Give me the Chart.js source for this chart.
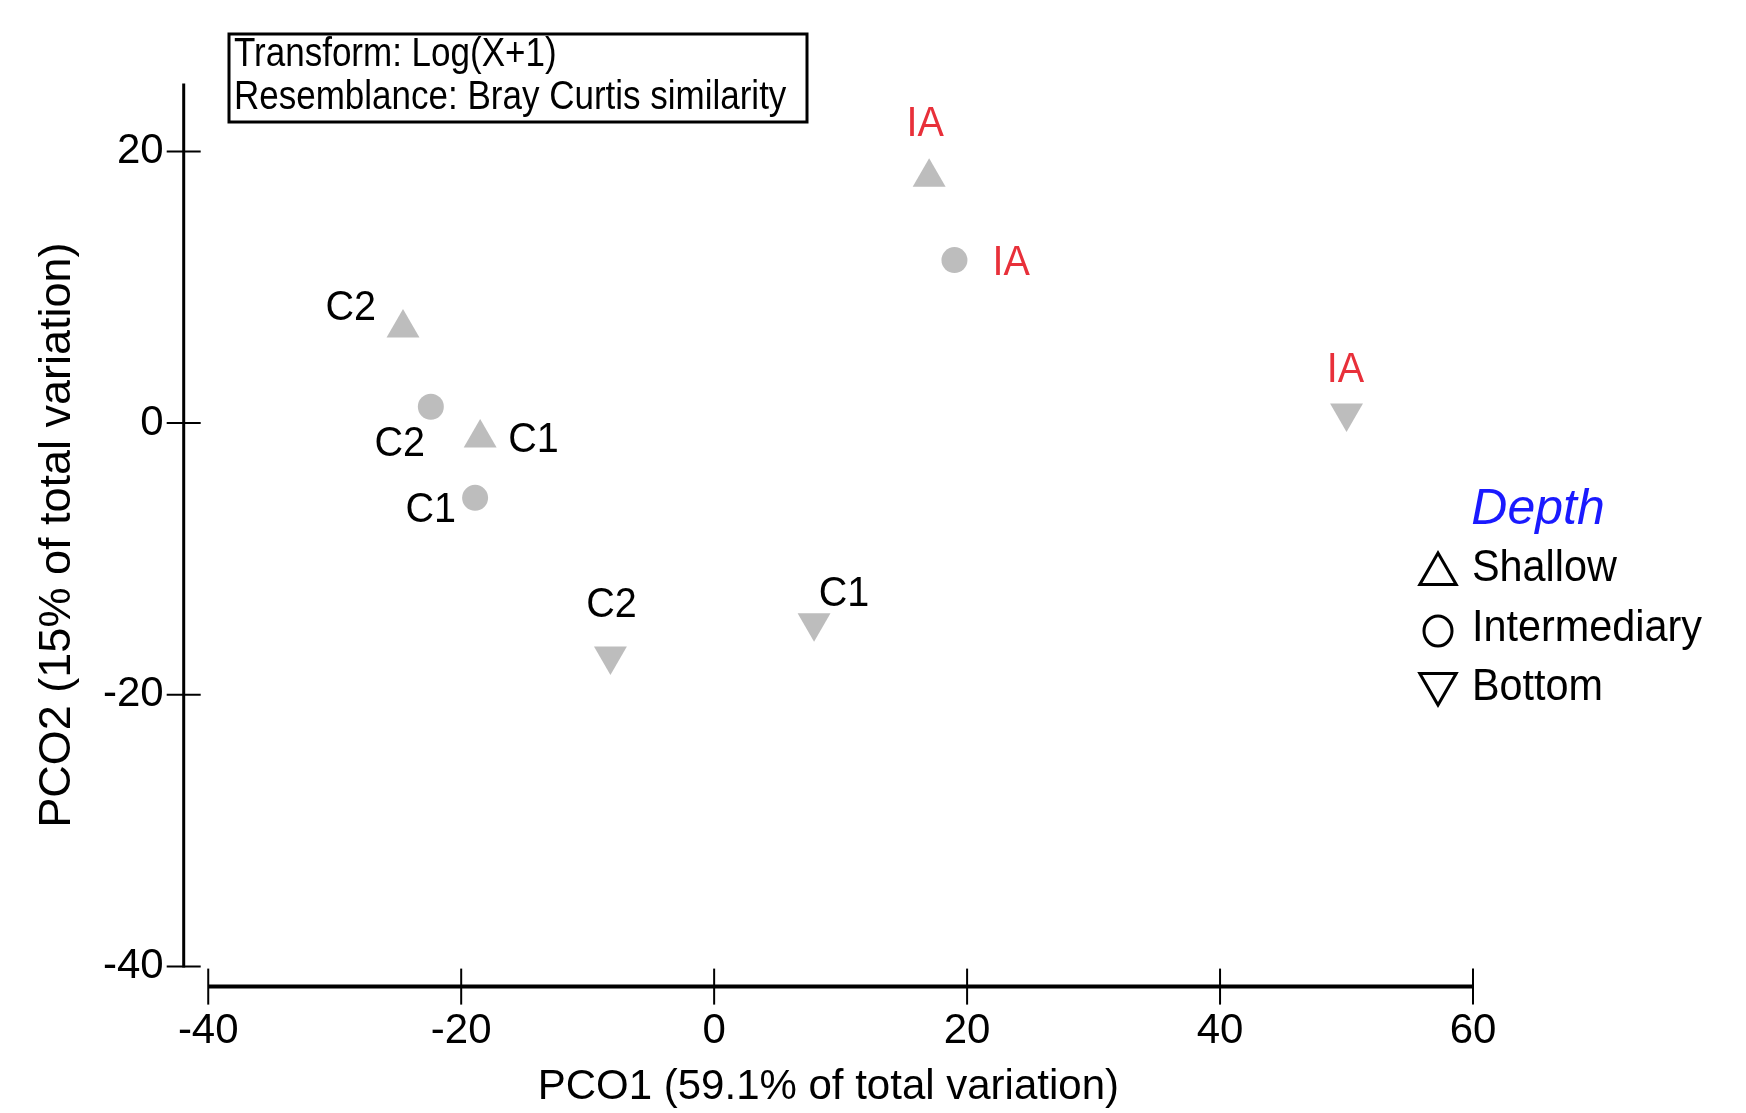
<!DOCTYPE html>
<html>
<head>
<meta charset="utf-8">
<script src="https://cdn.jsdelivr.net/npm/chart.js@4.4.1/dist/chart.umd.min.js"></script>
<style>
  html, body { margin: 0; padding: 0; background: #fff; }
  #wrap { width: 1746px; height: 1113px; }
</style>
</head>
<body>
<div id="wrap"><canvas id="pco"></canvas></div>
<script>
// PCO scores per depth (sites in order IA, C2, C1)
const sites = ['IA', 'C2', 'C1'];
const shallowX = [17.0, -24.6, -18.5];
const shallowY = [18.1, 7.0, -1.1];
const intermediaryX = [19.0, -22.4, -18.9];
const intermediaryY = [12.0, 1.2, -5.5];
const bottomX = [50.0, -8.2, 7.9];
const bottomY = [0.75, -17.15, -14.7];

const xTicks = [-40, -20, 0, 20, 40, 60];
const yTicks = [-40, -20, 0, 20];
const depthNames = ['Shallow', 'Intermediary', 'Bottom'];
const noteLines = ['Transform: Log(X+1)', 'Resemblance: Bray Curtis similarity'];

const FONT = "'Liberation Sans', Arial, sans-serif";
const GREY = '#bdbdbd';
const RED = '#e8303a';

// where each site label sits relative to its marker: [dx, dy, align]
const labelPos = [
  [[-4, -53, 'center'], [-27, -20, 'right'], [28, 2, 'left']],
  [[38, 3, 'left'], [-31, 37, 'center'], [-19, 12, 'right']],
  [[-1, -43, 'center'], [1, -51, 'center'], [30, -29, 'center']]
];

function pts(xs, ys) {
  return xs.map((x, i) => ({ x: x, y: ys[i] }));
}

// the original figure uses a slightly condensed face, so squeeze text a bit
function squeezedText(ctx, text, x, y, align, sx) {
  ctx.save();
  ctx.translate(x, y);
  ctx.scale(sx, 1);
  ctx.textAlign = align;
  ctx.fillText(text, 0, 0);
  ctx.restore();
}

Chart.defaults.font.family = FONT;
Chart.defaults.color = '#000';

// detached PRIMER-style axes: lines only span the tick range
const axesLines = {
  id: 'axesLines',
  beforeDatasetsDraw(chart) {
    const { ctx, chartArea, scales: { x, y } } = chart;
    ctx.save();
    ctx.strokeStyle = '#000';
    const ax = chartArea.left;
    ctx.lineWidth = 3;
    ctx.beginPath();
    ctx.moveTo(ax, chartArea.top);
    ctx.lineTo(ax, y.getPixelForValue(yTicks[0]) + 1);
    ctx.stroke();
    ctx.lineWidth = 2;
    yTicks.forEach(v => {
      const py = y.getPixelForValue(v);
      ctx.beginPath();
      ctx.moveTo(ax - 17, py);
      ctx.lineTo(ax + 17, py);
      ctx.stroke();
    });
    const ay = chartArea.bottom;
    ctx.lineWidth = 4;
    ctx.beginPath();
    ctx.moveTo(x.getPixelForValue(xTicks[0]), ay);
    ctx.lineTo(x.getPixelForValue(xTicks[xTicks.length - 1]), ay);
    ctx.stroke();
    ctx.lineWidth = 2;
    xTicks.forEach(v => {
      const px = x.getPixelForValue(v);
      ctx.beginPath();
      ctx.moveTo(px, ay - 18);
      ctx.lineTo(px, ay + 18);
      ctx.stroke();
    });
    ctx.restore();
  }
};

const siteLabels = {
  id: 'siteLabels',
  afterDatasetsDraw(chart) {
    const ctx = chart.ctx;
    ctx.save();
    ctx.font = '43px ' + FONT;
    ctx.textBaseline = 'middle';
    chart.data.datasets.forEach((ds, di) => {
      chart.getDatasetMeta(di).data.forEach((el, i) => {
        const p = labelPos[di][i];
        ctx.fillStyle = sites[i] === 'IA' ? RED : '#000';
        squeezedText(ctx, sites[i], el.x + p[0], el.y + p[1], p[2], 0.92);
      });
    });
    ctx.restore();
  }
};

const noteBox = {
  id: 'noteBox',
  afterDraw(chart) {
    const ctx = chart.ctx;
    ctx.save();
    ctx.strokeStyle = '#000';
    ctx.lineWidth = 3;
    ctx.strokeRect(229, 34, 578, 88);
    ctx.fillStyle = '#000';
    ctx.font = '40px ' + FONT;
    ctx.textBaseline = 'middle';
    squeezedText(ctx, noteLines[0], 234, 55, 'left', 0.875);
    squeezedText(ctx, noteLines[1], 234, 98, 'left', 0.875);
    ctx.restore();
  }
};

const depthKey = {
  id: 'depthKey',
  afterDraw(chart) {
    const ctx = chart.ctx;
    ctx.save();
    ctx.fillStyle = '#1a1aff';
    ctx.font = 'italic 50px ' + FONT;
    ctx.textAlign = 'center';
    ctx.textBaseline = 'middle';
    ctx.fillText('Depth', 1538, 510);

    const sx = 1438;
    const rows = [569, 629, 688];
    ctx.strokeStyle = '#000';
    ctx.lineWidth = 3;
    // up triangle
    let r = 21, cy = rows[0] + 5;
    ctx.beginPath();
    ctx.moveTo(sx, cy - r);
    ctx.lineTo(sx + r * 0.866, cy + r / 2);
    ctx.lineTo(sx - r * 0.866, cy + r / 2);
    ctx.closePath();
    ctx.stroke();
    // circle
    ctx.beginPath();
    ctx.ellipse(sx, rows[1] + 2, 14, 15, 0, 0, Math.PI * 2);
    ctx.stroke();
    // down triangle
    cy = rows[2] - 4;
    ctx.beginPath();
    ctx.moveTo(sx, cy + r);
    ctx.lineTo(sx + r * 0.866, cy - r / 2);
    ctx.lineTo(sx - r * 0.866, cy - r / 2);
    ctx.closePath();
    ctx.stroke();

    ctx.fillStyle = '#000';
    ctx.font = '44px ' + FONT;
    depthNames.forEach((n, i) => squeezedText(ctx, n, 1472, rows[i], 'left', 0.94));
    ctx.restore();
  }
};

new Chart(document.getElementById('pco'), {
  type: 'scatter',
  data: {
    datasets: [
      { label: depthNames[0], data: pts(shallowX, shallowY), pointStyle: 'triangle', pointRadius: 19, backgroundColor: GREY, borderWidth: 0 },
      { label: depthNames[1], data: pts(intermediaryX, intermediaryY), pointStyle: 'circle', pointRadius: 13, backgroundColor: GREY, borderWidth: 0 },
      { label: depthNames[2], data: pts(bottomX, bottomY), pointStyle: 'triangle', rotation: 180, pointRadius: 19, backgroundColor: GREY, borderWidth: 0 }
    ]
  },
  options: {
    responsive: true,
    maintainAspectRatio: false,
    animation: false,
    layout: { padding: { top: 83.5, right: 273, left: 0, bottom: 0 } },
    plugins: {
      legend: { display: false },
      tooltip: { enabled: false }
    },
    scales: {
      x: {
        type: 'linear',
        min: -41.94,
        max: 60,
        afterBuildTicks: s => { s.ticks = xTicks.map(v => ({ value: v })); },
        afterFit: s => { s.height = 126.4; },
        grid: { display: false, drawTicks: false },
        border: { display: false },
        ticks: { padding: 20, font: { size: 42 }, color: '#000' },
        title: { display: true, text: 'PCO1 (59.1% of total variation)', font: { size: 42 }, color: '#000', padding: { top: 0, bottom: 0 } }
      },
      y: {
        type: 'linear',
        min: -41.48,
        max: 25,
        afterBuildTicks: s => { s.ticks = yTicks.map(v => ({ value: v })); },
        afterFit: s => { s.width = 183.7; },
        grid: { display: false, drawTicks: false },
        border: { display: false },
        ticks: { padding: 20, font: { size: 42 }, color: '#000' },
        title: { display: true, text: 'PCO2 (15% of total variation)', font: { size: 45 }, color: '#000', padding: { top: 31, bottom: 0 } }
      }
    }
  },
  plugins: [axesLines, siteLabels, noteBox, depthKey]
});
</script>
</body>
</html>
